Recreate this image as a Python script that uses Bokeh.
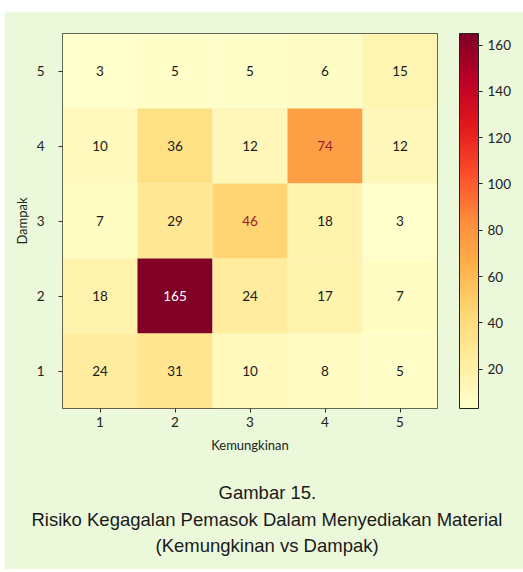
import numpy as np
from bokeh.plotting import figure
from bokeh.models import (ColumnDataSource, LinearColorMapper, ColorBar, Title,
                          FixedTicker, Range1d)
from bokeh.core.properties import value
from bokeh.embed import file_html
from bokeh.resources import INLINE

# ---- data ----
kemungkinan = [1, 2, 3, 4, 5]          # x categories
dampak = [5, 4, 3, 2, 1]               # y categories (top to bottom)
row_d5 = [3, 5, 5, 6, 15]
row_d4 = [10, 36, 12, 74, 12]
row_d3 = [7, 29, 46, 18, 3]
row_d2 = [18, 165, 24, 17, 7]
row_d1 = [24, 31, 10, 8, 5]
rows = [row_d5, row_d4, row_d3, row_d2, row_d1]
cbar_ticks = [20, 40, 60, 80, 100, 120, 140, 160]
caption = ["Gambar 15.",
           "Risiko Kegagalan Pemasok Dalam Menyediakan Material",
           "(Kemungkinan vs Dampak)"]

# ---- palette (YlOrRd interpolated) ----
stops = ["#ffffcc", "#ffeda0", "#fed976", "#feb24c", "#fd8d3c",
         "#fc4e2a", "#e31a1c", "#bd0026", "#800026"]
def h2rgb(h):
    return [int(h[i:i + 2], 16) for i in (1, 3, 5)]
srgb = np.array([h2rgb(s) for s in stops], dtype=float)
t = np.linspace(0, 1, len(stops))
tt = np.linspace(0, 1, 256)
pal = []
for v in tt:
    c = [np.interp(v, t, srgb[:, k]) for k in range(3)]
    pal.append("#%02x%02x%02x" % tuple(int(round(x)) for x in c))

xs, ys, vals, tcol = [], [], [], []
for d, row in zip(dampak, rows):
    for k, v in zip(kemungkinan, row):
        xs.append(k)
        ys.append(d)
        vals.append(v)
        if v > 100:
            tcol.append("white")
        elif v > 40:
            tcol.append("#9e1b32")
        else:
            tcol.append("#1a1a1a")
src = ColumnDataSource(dict(x=xs, y=ys, v=vals, txt=[str(v) for v in vals], tc=tcol))

mapper = LinearColorMapper(palette=pal, low=3, high=165)

BG = "#ebf8da"
FONT = "Lato"
FS = "13.5px"

p = figure(width=519, height=558,
           x_range=Range1d(0.5, 5.5), y_range=Range1d(0.5, 5.5),
           output_backend="svg", toolbar_location=None,
           min_border_left=58, min_border_top=22, min_border_right=86,
           min_border_bottom=161, margin=(11, 0, 0, 4))
p.background_fill_color = BG
p.border_fill_color = BG
p.outline_line_color = "#333333"
p.outline_line_width = 1
p.grid.visible = False

p.rect(x="x", y="y", width=1, height=1, source=src,
       fill_color={"field": "v", "transform": mapper}, line_color=None)
p.text(x="x", y="y", text="txt", source=src, text_color="tc",
       text_align="center", text_baseline="middle",
       text_font=value(FONT), text_font_size=FS)

for ax in (p.xaxis[0], p.yaxis[0]):
    ax.ticker = FixedTicker(ticks=kemungkinan)
    ax.axis_line_color = None
    ax.minor_tick_line_color = None
    ax.major_tick_in = 0
    ax.major_tick_out = 4
    ax.major_tick_line_color = "#333333"
    ax.major_label_text_font = FONT
    ax.major_label_text_font_size = FS
    ax.major_label_text_color = "#222222"
    ax.axis_label_text_font = FONT
    ax.axis_label_text_font_size = "13px"
    ax.axis_label_text_font_style = "normal"
    ax.axis_label_text_color = "#222222"
p.xaxis.axis_label = "Kemungkinan"
p.yaxis.axis_label = "Dampak"
p.xaxis.major_label_standoff = 4
p.xaxis.axis_label_standoff = 7
p.yaxis.major_label_standoff = 14
p.yaxis.axis_label_standoff = 4

# spacer between frame and colour bar
p.add_layout(Title(text=" ", text_font_size="1px", standoff=19), "right")

cb = ColorBar(color_mapper=mapper, width=19, padding=0,
              ticker=FixedTicker(ticks=cbar_ticks),
              bar_line_color="#222222", major_tick_out=4, major_tick_in=0,
              major_tick_line_color="#222222", minor_tick_line_color=None,
              major_label_text_font=FONT, major_label_text_font_size=FS,
              major_label_text_color="#222222",
              background_fill_color=BG, border_line_color=None)
p.add_layout(cb, "right")

# spacer between axis and caption
p.add_layout(Title(text=" ", text_font_size="1px", standoff=19), "below")
cap_offsets = [156, -31, 93]
cap_standoff = [4, 4, 3]
for line, off, so in zip(caption, cap_offsets, cap_standoff):
    p.add_layout(Title(text=line, align="left", offset=off, standoff=so,
                       text_font="Liberation Sans", text_font_size="18.5px",
                       text_font_style="normal", text_color="#1a1a1a"), "below")

open("out.html", "w").write(file_html(p, INLINE))
